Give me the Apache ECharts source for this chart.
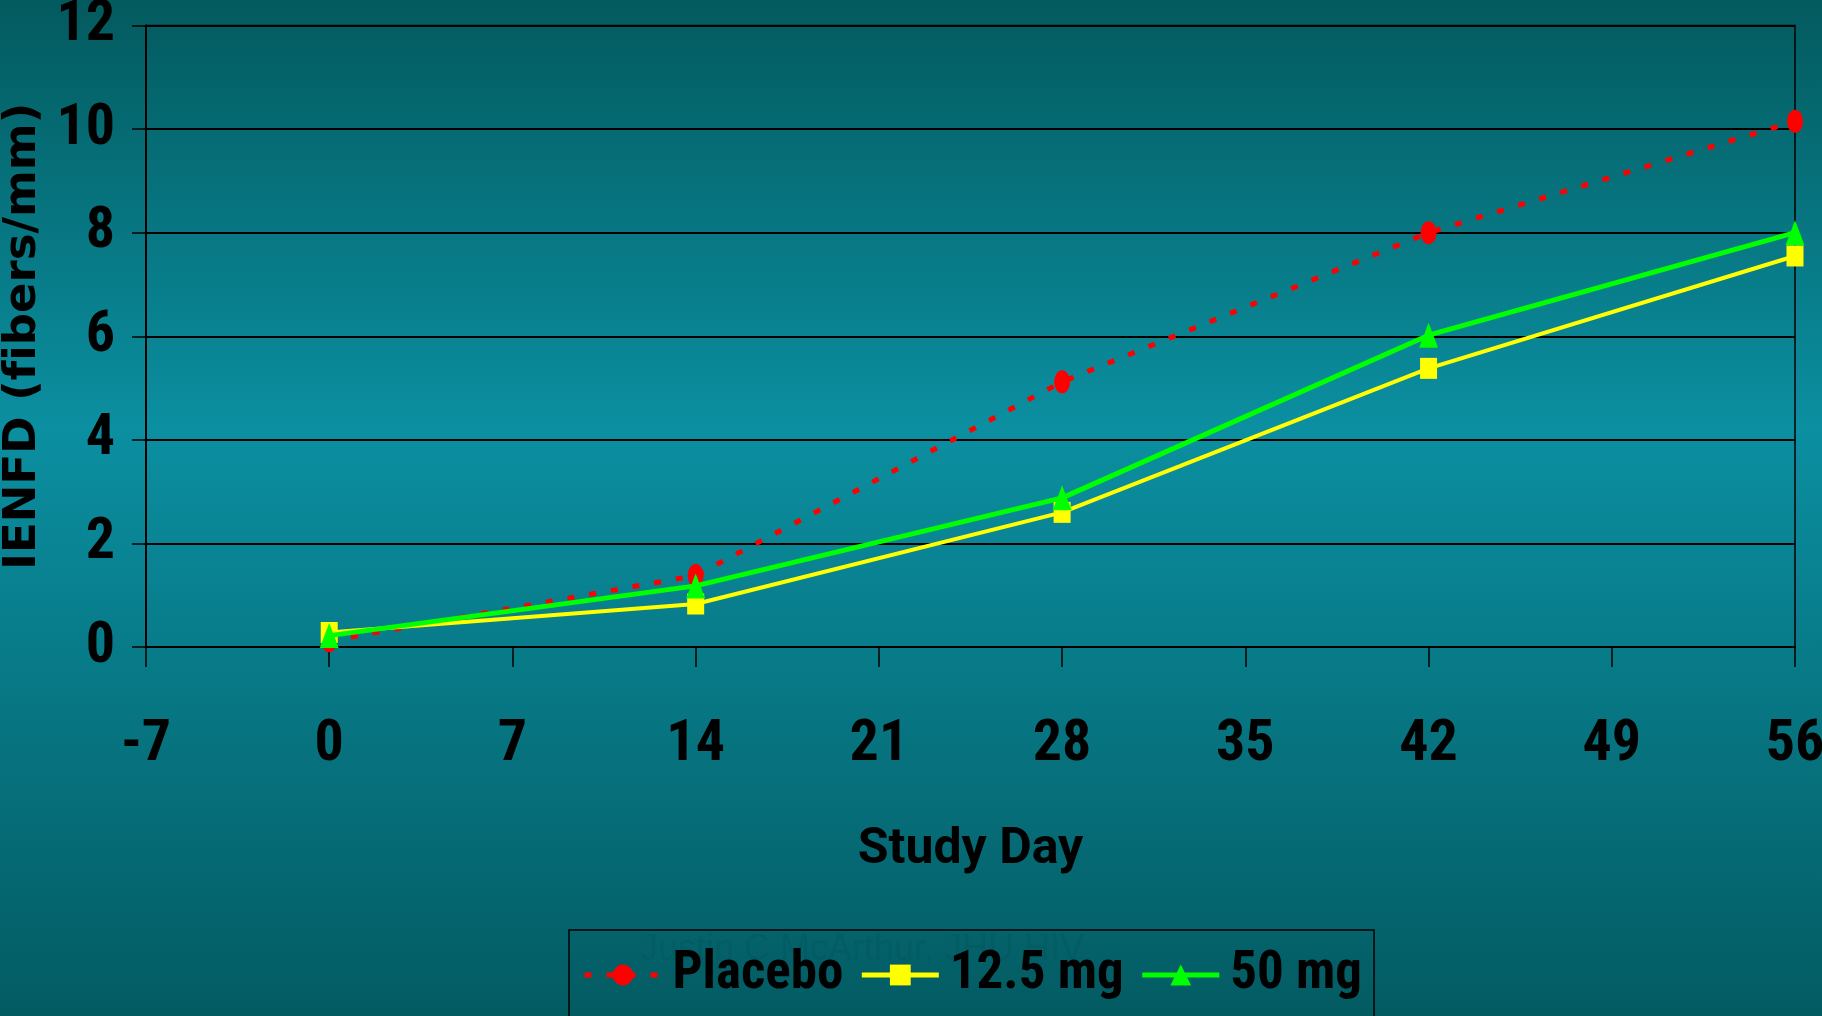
<!DOCTYPE html>
<html>
<head>
<meta charset="utf-8">
<style>
  html, body { margin: 0; padding: 0; }
  #chart { width: 1822px; height: 1016px; }
</style>
<script src="https://cdn.jsdelivr.net/npm/echarts@6/dist/echarts.min.js"></script>
</head>
<body>
<div id="chart"></div>
<script>
// Study days at which IENFD was measured
const studyDays = [0, 14, 28, 42, 56];
// Mean IENFD (fibers/mm) per treatment arm
const placebo = [0.12, 1.38, 5.12, 8.0, 10.15];
const dose12_5 = [0.28, 0.83, 2.6, 5.38, 7.55];
const dose50 = [0.22, 1.18, 2.88, 6.02, 8.0];
const seriesNames = ['Placebo', '12.5 mg', '50 mg'];
const footnote = 'Justin C McArthur, JHU HIV';
// zero-width non-joiner keeps "f" and "i" as separate glyphs
const yTitle = 'IENFD (f\u200Cibers/mm)';

const ROBOTO = 'Roboto, "Roboto Condensed", sans-serif';
const WIDE = '"DejaVu Sans", Verdana, sans-serif';

const pairs = (ys) => studyDays.map((d, i) => [d, ys[i]]);

const chart = echarts.init(document.getElementById('chart'), null, { renderer: 'canvas' });

chart.setOption({
  backgroundColor: {
    type: 'linear', x: 0, y: 0, x2: 0, y2: 1,
    colorStops: [
      { offset: 0, color: '#035a5e' },
      { offset: 0.42, color: '#0b8fa1' },
      { offset: 1, color: '#035b62' }
    ]
  },
  animation: false,
  grid: {
    left: 146, right: 27, top: 25.5, bottom: 369,
    outerBoundsMode: 'none',
    containLabel: false,
    show: true, borderColor: '#000', borderWidth: 1.5,
    backgroundColor: 'transparent'
  },
  xAxis: {
    type: 'value', min: -7, max: 56, interval: 7,
    name: 'Study Day', nameLocation: 'middle', nameGap: 178,
    nameTextStyle: { color: '#000', fontFamily: ROBOTO, fontWeight: 'bold', fontSize: 50 },
    axisLine: { show: true, onZero: false, lineStyle: { color: '#000', width: 2 } },
    axisTick: { show: true, length: 20, lineStyle: { color: '#000', width: 1.5 } },
    axisLabel: { color: '#000', fontFamily: ROBOTO, fontWeight: 'bold condensed', fontSize: 58, margin: 69 },
    splitLine: { show: false }
  },
  yAxis: {
    type: 'value', min: 0, max: 12, interval: 2,
    name: yTitle, nameLocation: 'middle', nameGap: 94, nameRotate: 90,
    nameTextStyle: { color: '#000', fontFamily: WIDE, fontWeight: 'bold', fontSize: 45 },
    axisLine: { show: true, onZero: false, lineStyle: { color: '#000', width: 2 } },
    axisTick: { show: true, length: 14, lineStyle: { color: '#000', width: 1.5 } },
    axisLabel: {
      color: '#000', fontFamily: ROBOTO, fontWeight: 'bold condensed', fontSize: 58,
      margin: 31, padding: [7, 0, 0, 0]
    },
    splitLine: { show: true, lineStyle: { color: '#000', width: 2 } }
  },
  legend: {
    left: 569, top: 930,
    padding: [15, 12, 60, 13],
    borderColor: '#000', borderWidth: 1.5,
    itemWidth: 77, itemHeight: 26, itemGap: 16,
    lineStyle: { width: 5 },
    textStyle: {
      color: '#000', fontFamily: ROBOTO, fontWeight: 'bold semi-condensed',
      fontSize: 53, lineHeight: 60, padding: [0, 0, 0, 6]
    },
    data: seriesNames
  },
  graphic: [{
    type: 'text', left: 640, top: 932, z: -1,
    style: { text: footnote, fill: 'rgba(0,0,0,0.05)', font: '36px "Liberation Sans", Arial, sans-serif' }
  }],
  series: [
    {
      name: seriesNames[0], type: 'line', data: pairs(placebo),
      symbol: 'circle', symbolSize: [16, 23],
      itemStyle: { color: '#ff0000' },
      lineStyle: { color: '#ff0000', width: 5, type: [7, 15] },
      z: 2
    },
    {
      name: seriesNames[1], type: 'line', data: pairs(dose12_5),
      symbol: 'rect', symbolSize: [17, 21],
      itemStyle: { color: '#ffff00' },
      lineStyle: { color: '#ffff00', width: 4 },
      z: 3
    },
    {
      name: seriesNames[2], type: 'line', data: pairs(dose50),
      symbol: 'triangle', symbolSize: [19, 25],
      itemStyle: { color: '#00ff00' },
      lineStyle: { color: '#00ff00', width: 5 },
      z: 4
    }
  ]
});
</script>
</body>
</html>
